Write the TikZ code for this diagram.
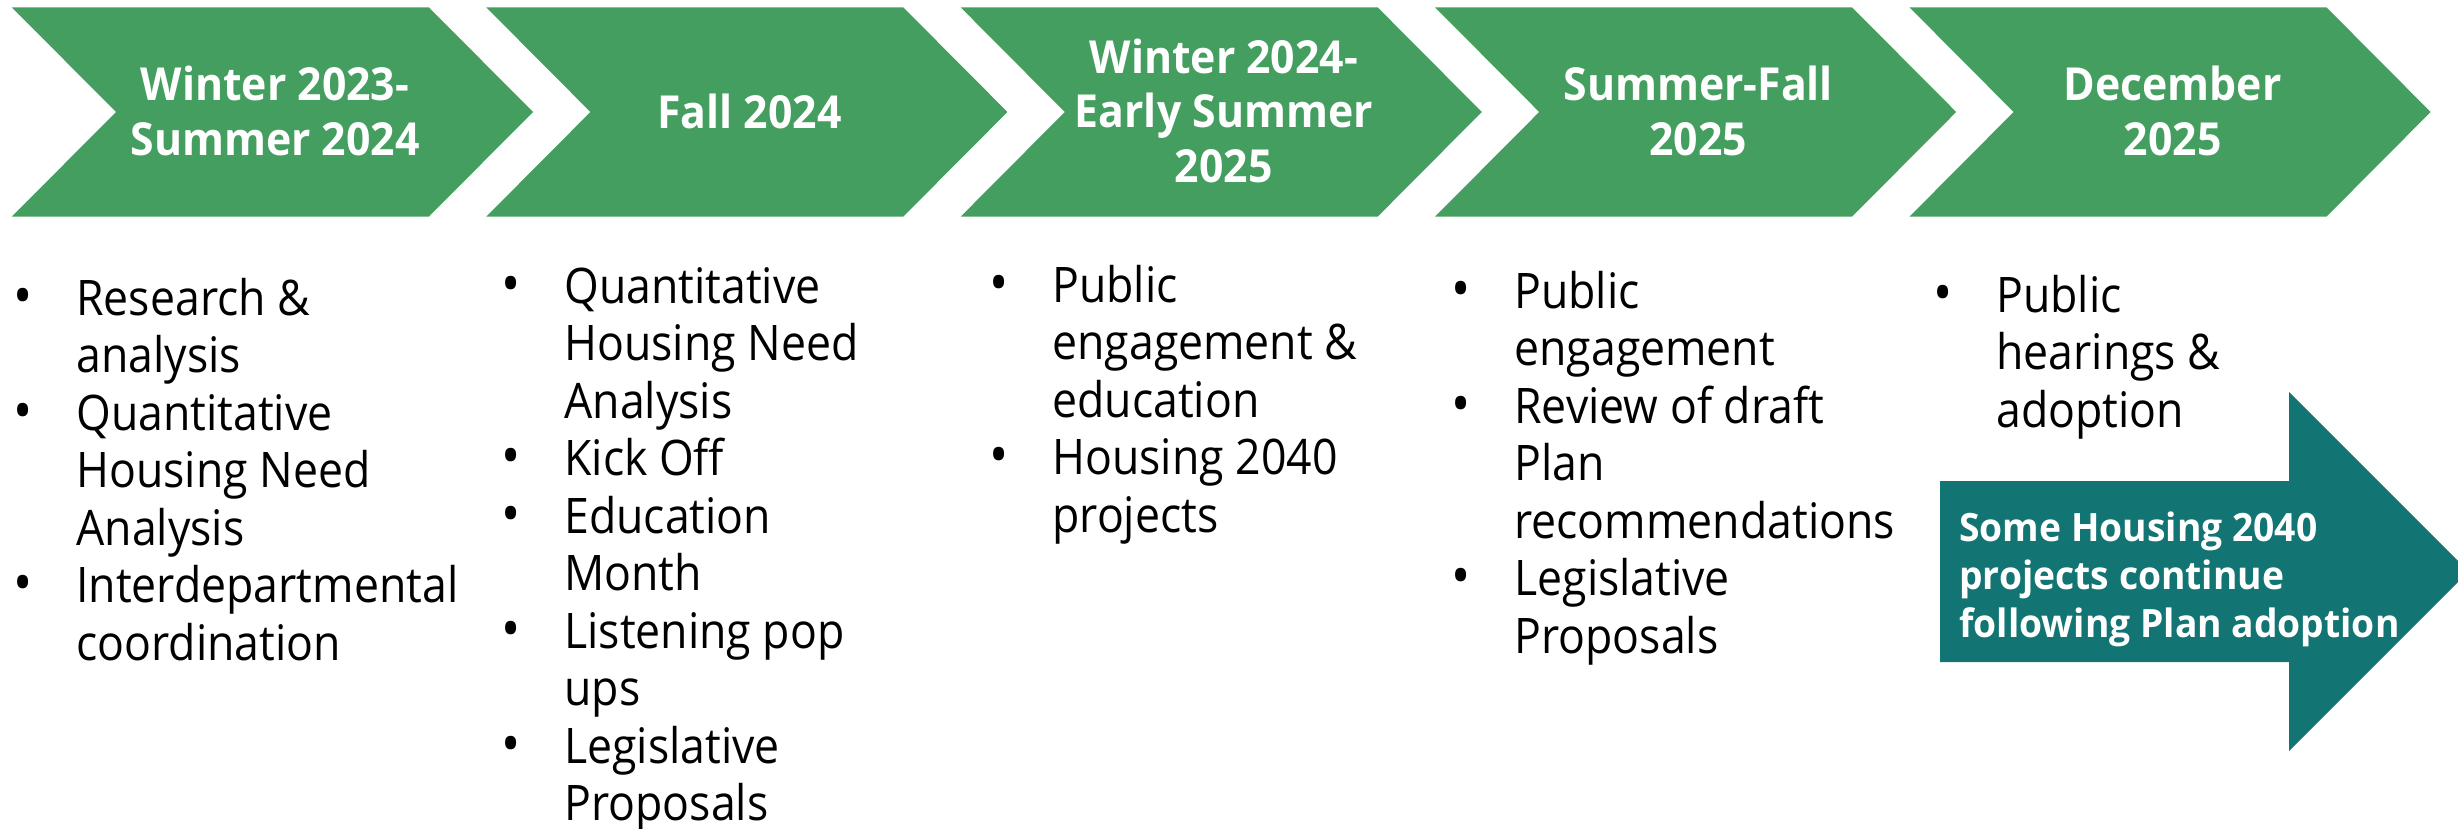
\documentclass[tikz,border=0pt]{standalone}
\usepackage{fontspec}
\setmainfont{Open Sans}
\newfontfamily\bodyfam[FakeStretch=0.91]{Open Sans}
\newfontfamily\chevfam[FakeStretch=0.94]{Open Sans}
\newfontfamily\tealfam[FakeStretch=0.955]{Open Sans}
\definecolor{chevgreen}{RGB}{68,158,95}
\definecolor{arrowteal}{RGB}{19,117,115}
\newcommand{\bodyfont}{\bodyfam\fontsize{24.5pt}{28.75pt}\selectfont}
\newcommand{\chevfont}{\chevfam\fontsize{22.75pt}{27.25pt}\selectfont\bfseries}
\newcommand{\tealfont}{\tealfam\fontsize{19.5pt}{24pt}\selectfont\bfseries}
\newcommand{\bitem}[1]{\par\noindent\llap{\makebox[53pt]{\fontsize{28pt}{28.75pt}\selectfont\textbullet}}#1}
\tikzset{
  chev/.style={fill=chevgreen},
  chevlabel/.style={anchor=base, inner sep=0pt, text=white},
  col/.style={anchor=base west, inner sep=0pt, text=black},
}
\begin{document}
\begin{tikzpicture}[x=0.5pt,y=-0.5pt]
\useasboundingbox (0,0) rectangle (2458,829);
\clip (0,0) rectangle (2458,829);
% chevrons
\foreach \L in {12,486.4,960.8,1435.2,1909.6}{
  \fill[chev] (\L,7.5) -- ++(417,0) -- ++(104,104.5) -- ++(-104,104.5) -- ++(-417,0) -- ++(104,-104.5) -- cycle;
}
\node[chevlabel] (h1) at (275,100.75) {\parbox[t]{210pt}{\centering\chevfont Winter 2023-\\Summer 2024}};
\node[chevlabel] (h2) at (749.4,128) {\parbox[t]{210pt}{\centering\chevfont Fall 2024}};
\node[chevlabel] (h3) at (1223.8,73.5) {\parbox[t]{210pt}{\centering\chevfont Winter 2024-\\Early Summer\\2025}};
\node[chevlabel] (h4) at (1698.2,100.75) {\parbox[t]{210pt}{\centering\chevfont Summer-Fall\\2025}};
\node[chevlabel] (h5) at (2172.6,100.75) {\parbox[t]{210pt}{\centering\chevfont December\\2025}};
% bullet columns
\node[col] (c1) at (76,315) {\parbox[t]{230pt}{\bodyfont\raggedright
\bitem{Research \&\\analysis}
\bitem{Quantitative\\Housing Need\\Analysis}
\bitem{Interdepartmental\\coordination}}};
\node[col] (c2) at (564,303) {\parbox[t]{230pt}{\bodyfont\raggedright
\bitem{Quantitative\\Housing Need\\Analysis}
\bitem{Kick Off}
\bitem{Education\\Month}
\bitem{Listening pop\\ups}
\bitem{Legislative\\Proposals}}};
\node[col] (c3) at (1052,302) {\parbox[t]{230pt}{\bodyfont\raggedright
\bitem{Public\\engagement \&\\education}
\bitem{Housing 2040\\projects}}};
\node[col] (c4) at (1514,308) {\parbox[t]{230pt}{\bodyfont\raggedright
\bitem{Public\\engagement}
\bitem{Review of draft\\Plan\\recommendations}
\bitem{Legislative\\Proposals}}};
% teal arrow
\fill[arrowteal] (1940,481) -- (2289,481) -- (2289,392) -- (2468.5,571.5) -- (2289,751) -- (2289,662) -- (1940,662) -- cycle;
\node[col] (c5) at (1996,312) {\parbox[t]{230pt}{\bodyfont\raggedright
\bitem{Public\\hearings \&\\adoption}}};
\node[col, text=white] (t1) at (1959,541) {\parbox[t]{260pt}{\tealfont\raggedright Some Housing 2040\\projects continue\\following Plan adoption}};
\end{tikzpicture}
\end{document}
